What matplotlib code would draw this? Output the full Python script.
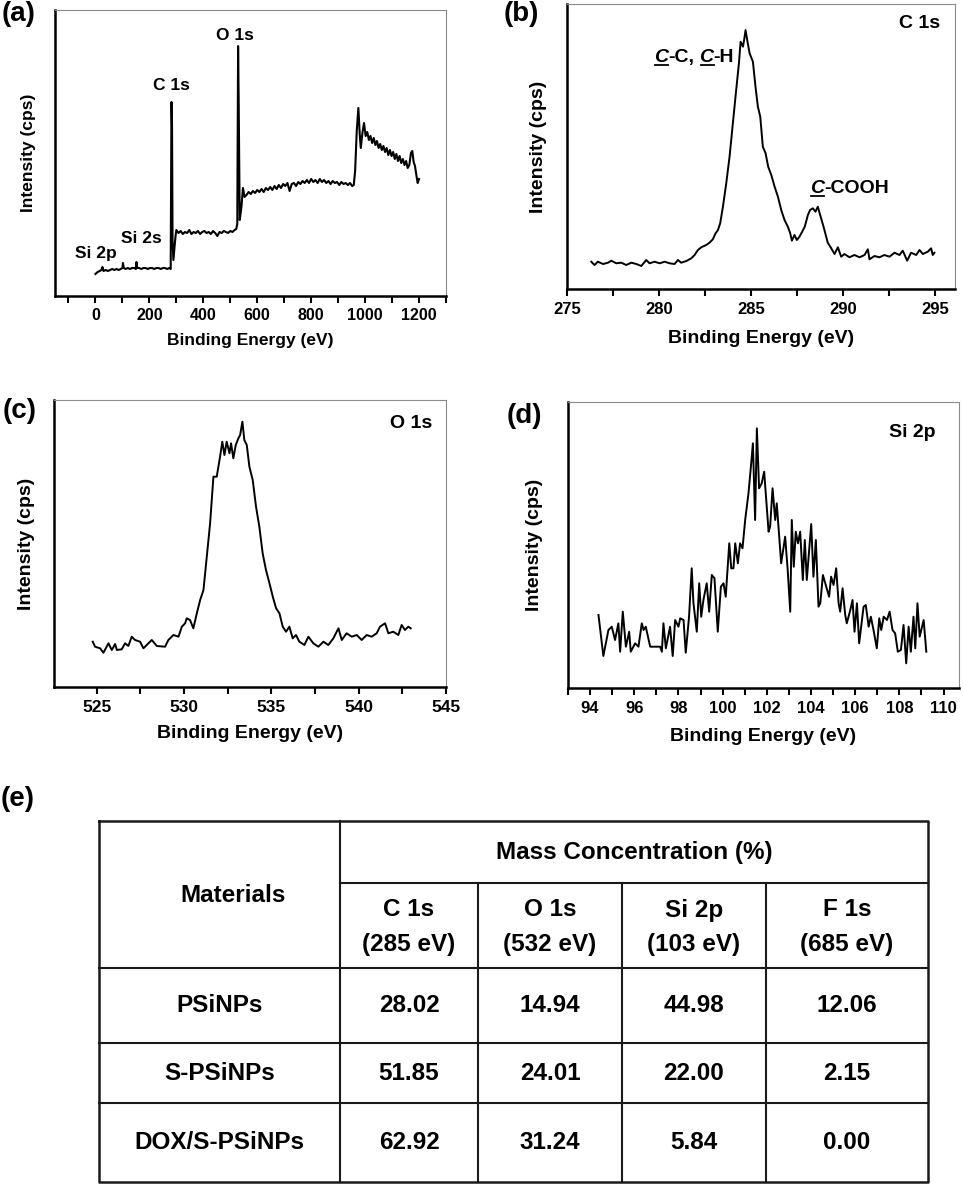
import numpy as np
import matplotlib
matplotlib.use("Agg")
import matplotlib.pyplot as plt
import matplotlib.transforms as mtransforms
from matplotlib.lines import Line2D
from matplotlib.ticker import MultipleLocator

plt.rcParams['font.family'] = ['Liberation Sans', 'DejaVu Sans']
plt.rcParams['font.weight'] = 'bold'

# ---- (a) survey scan ----
survey_be = ([0, 8, 16, 22, 26, 30, 38, 46, 54, 62, 70, 78, 86, 94, 100, 102, 105, 112,
              120, 128, 136, 144, 150, 152, 155, 162, 170, 178, 186, 194, 202, 210, 218,
              226, 234, 242, 250, 258, 266, 274, 279, 282, 284, 286, 289, 293, 297, 300]
             + [308, 316, 324, 332, 340, 348, 356, 364, 372, 380, 388, 396, 404, 412, 420,
                428, 436, 444, 452, 460, 468, 476, 484, 492, 500, 508, 516]
             + [522, 526, 529, 531, 535, 541, 547, 553]
             + list(range(560, 953, 8))
             + [958, 963, 969, 975, 980, 984, 990, 996, 1002]
             + list(range(1008, 1165, 6))
             + [1170, 1175, 1180, 1185, 1190, 1195, 1200])
survey_int = ([22, 24, 25, 26, 29, 25, 26, 25, 26, 27, 26, 27, 26, 27, 28, 33, 28, 27,
               28, 27, 28, 28, 27, 34, 28, 28, 27, 28, 28, 27, 28, 28, 27,
               28, 28, 27, 28, 28, 27, 28, 27, 194, 170, 55, 36, 48, 60, 66]
              + [63, 65, 62, 64, 63, 66, 62, 64, 63, 65, 62, 64, 65, 63, 64,
                 62, 65, 63, 60, 64, 63, 65, 64, 63, 65, 64, 66]
              + [67, 72, 250, 200, 76, 88, 108, 99]
              + [101, 104, 102, 105, 103, 106, 104, 107, 104, 108,
                 106, 109, 106, 110, 107, 111, 108, 112, 110, 113,
                 105, 112, 113, 110, 114, 112, 115, 113, 116, 113,
                 117, 114, 116, 113, 117, 114, 116, 113, 115, 112,
                 115, 113, 114, 111, 114, 112, 113, 111, 113, 110]
              + [111, 125, 165, 188, 162, 148, 163, 173, 160]
              + [164, 156, 160, 153, 158, 151, 155, 148, 152, 146, 150, 144, 148, 141,
                 146, 140, 144, 137, 142, 135, 140, 133, 137, 131, 135, 128, 131]
              + [143, 145, 134, 130, 121, 113, 117])

# ---- (b) C 1s ----
c1s_be = [276.32, 276.50, 276.68, 276.96, 277.23, 277.41, 277.68, 277.95, 278.22, 278.50,
          278.77, 279.04, 279.31, 279.49, 279.76, 280.04, 280.31, 280.58, 280.85, 281.03,
          281.21, 281.49, 281.76, 281.94, 282.12, 282.30, 282.57, 282.75, 282.93, 283.08,
          283.21, 283.33, 283.48, 283.66, 283.84, 284.02, 284.20, 284.35, 284.44, 284.57,
          284.66, 284.71, 284.80, 284.93, 285.11, 285.25, 285.38, 285.51, 285.65, 285.80,
          285.94, 286.11, 286.29, 286.47, 286.65, 286.83, 287.01, 287.14, 287.23, 287.37,
          287.50, 287.64, 287.79, 287.93, 288.10, 288.22, 288.37, 288.51, 288.64, 288.82,
          289.00, 289.18, 289.37, 289.55, 289.73, 289.91, 290.09, 290.36, 290.63, 290.91,
          291.18, 291.36, 291.45, 291.72, 291.99, 292.26, 292.54, 292.81, 293.08, 293.26,
          293.50, 293.71, 293.99, 294.17, 294.35, 294.62, 294.80, 294.89, 294.98]
c1s_int = [27.3, 24.0, 27.3, 25.0, 26.3, 28.3, 25.7, 26.3, 24.0, 26.3,
           25.0, 23.0, 29.0, 25.7, 27.3, 25.7, 27.3, 25.7, 25.0, 29.0,
           26.3, 28.0, 30.7, 34.0, 39.0, 41.7, 44.0, 46.3, 49.7, 55.7,
           59.0, 65.7, 82.3, 105.7, 132.3, 165.7, 199.0, 225.7, 247.3, 242.3,
           252.3, 259.0, 249.0, 235.7, 227.3, 202.3, 182.3, 172.3, 142.3, 135.7,
           122.3, 114.0, 102.3, 92.3, 79.0, 69.0, 62.3, 55.7, 48.3, 54.0,
           49.0, 52.3, 57.3, 62.3, 74.0, 79.0, 80.7, 77.3, 82.3, 70.7,
           59.0, 46.3, 40.7, 35.0, 41.7, 32.3, 35.0, 31.7, 34.0, 31.7,
           34.0, 39.7, 29.7, 33.0, 31.7, 34.0, 32.3, 36.3, 34.0, 38.3,
           28.3, 36.3, 34.0, 39.0, 35.0, 37.3, 40.7, 34.0, 36.3]

# ---- (c) O 1s ----
o1s_be = [524.77, 524.90, 525.19, 525.38, 525.67, 525.86, 526.05, 526.15, 526.43, 526.62,
          526.81, 527.00, 527.19, 527.48, 527.67, 528.15, 528.44, 528.91, 529.10, 529.39,
          529.68, 529.87, 530.06, 530.15, 530.34, 530.53, 530.73, 530.92, 531.11, 531.30,
          531.49, 531.68, 531.87, 532.06, 532.19, 532.31, 532.44, 532.60, 532.69, 532.82,
          532.96, 533.11, 533.21, 533.34, 533.45, 533.59, 533.74, 533.93, 534.12, 534.31,
          534.50, 534.69, 534.89, 535.08, 535.27, 535.46, 535.65, 535.84, 536.03, 536.22,
          536.41, 536.60, 536.89, 537.12, 537.40, 537.69, 537.98, 538.26, 538.55, 538.84,
          539.03, 539.31, 539.60, 539.89, 540.17, 540.46, 540.74, 541.03, 541.22, 541.51,
          541.70, 541.98, 542.27, 542.46, 542.65, 542.84, 542.98]
o1s_int = [45.3, 40.3, 38.7, 34.3, 43.7, 37.0, 43.0, 37.0, 37.7, 43.7,
           41.0, 50.3, 47.0, 45.3, 38.7, 47.0, 41.0, 40.3, 47.0, 52.0,
           50.3, 60.3, 63.7, 68.7, 67.0, 58.7, 73.7, 87.0, 97.0, 130.3,
           163.7, 210.3, 210.3, 230.3, 245.3, 232.0, 245.3, 233.7, 243.7, 228.7,
           242.0, 248.7, 252.0, 265.3, 247.0, 242.0, 220.3, 207.0, 180.3, 160.3,
           133.7, 117.0, 103.7, 90.3, 78.7, 73.7, 60.3, 55.3, 60.3, 48.7,
           52.0, 45.3, 42.0, 50.3, 43.7, 40.3, 45.3, 42.0, 48.7, 58.7,
           47.0, 53.7, 50.3, 52.0, 47.0, 52.0, 50.3, 53.7, 60.3, 63.7,
           53.7, 55.3, 52.0, 62.0, 57.0, 60.3, 58.7]

# ---- (d) Si 2p ----
si2p_be = [94.38, 94.60, 94.83, 94.98, 95.13, 95.28, 95.36, 95.48, 95.62, 95.77,
           95.84, 96.04, 96.19, 96.34, 96.42, 96.52, 96.72, 97.17, 97.25, 97.32,
           97.43, 97.62, 97.74, 97.85, 98.00, 98.08, 98.23, 98.33, 98.48, 98.60,
           98.68, 98.83, 98.94, 99.03, 99.13, 99.28, 99.39, 99.51, 99.63, 99.78,
           99.92, 100.04, 100.14, 100.30, 100.39, 100.49, 100.57, 100.69, 100.79, 100.90,
           101.02, 101.17, 101.28, 101.37, 101.47, 101.55, 101.65, 101.77, 101.88, 102.08,
           102.15, 102.26, 102.38, 102.45, 102.65, 102.83, 102.94, 103.06, 103.13, 103.22,
           103.31, 103.41, 103.51, 103.63, 103.72, 103.81, 104.01, 104.11, 104.22, 104.34,
           104.42, 104.54, 104.69, 104.82, 104.91, 105.02, 105.14, 105.25, 105.32, 105.43,
           105.55, 105.62, 105.78, 105.88, 105.97, 106.08, 106.18, 106.38, 106.48, 106.61,
           106.71, 106.83, 106.98, 107.09, 107.18, 107.29, 107.44, 107.56, 107.69, 107.81,
           107.93, 108.07, 108.19, 108.31, 108.42, 108.52, 108.64, 108.72, 108.82, 108.92,
           109.10, 109.22]
si2p_int = [73.0, 32.0, 58.0, 61.3, 48.0, 64.7, 36.3, 76.3, 41.3, 56.3,
            36.3, 44.7, 41.3, 64.7, 58.0, 61.3, 41.3, 41.3, 36.3, 64.7,
            39.7, 61.3, 32.0, 68.0, 61.3, 69.7, 68.0, 35.3, 71.3, 119.7,
            84.7, 56.3, 104.7, 71.3, 88.0, 104.7, 76.3, 113.0, 109.7, 56.3,
            101.3, 104.7, 91.3, 144.7, 119.7, 119.7, 144.7, 124.7, 144.7, 139.7,
            168.0, 194.7, 221.3, 244.7, 168.0, 259.7, 199.7, 204.7, 216.3, 156.3,
            161.3, 199.7, 168.0, 184.7, 124.7, 151.3, 119.7, 76.3, 168.0, 121.3,
            156.3, 144.7, 156.3, 108.0, 148.0, 108.0, 164.0, 111.3, 148.0, 81.3,
            84.7, 113.0, 101.3, 91.3, 111.3, 103.0, 119.7, 84.7, 76.3, 99.7,
            73.0, 64.7, 78.0, 88.0, 56.3, 84.7, 44.7, 81.3, 83.0, 61.3,
            71.3, 58.0, 39.7, 69.7, 58.0, 71.3, 68.0, 76.3, 58.0, 54.7,
            36.3, 38.0, 63.0, 24.7, 61.3, 36.3, 71.3, 39.7, 84.7, 51.3,
            68.0, 36.3]

# ---- (e) table ----
materials = ['PSiNPs', 'S-PSiNPs', 'DOX/S-PSiNPs']
elements = ['C 1s', 'O 1s', 'Si 2p', 'F 1s']
peak_ev = [285, 532, 103, 685]
mass_conc = [[28.02, 14.94, 44.98, 12.06],
             [51.85, 24.01, 22.00, 2.15],
             [62.92, 31.24, 5.84, 0.00]]

W, H = 963, 1186
fig = plt.figure(figsize=(W / 100, H / 100), dpi=100)


def px_axes(l, t, r, b):
    return fig.add_axes([l / W, 1 - b / H, (r - l) / W, (b - t) / H])


def style(ax, xlim, ylim, major, minor, tick_fs, lab_fs, xlab_y, ylab_x, pad):
    ax.set_xlim(*xlim)
    ax.set_ylim(*ylim)
    ax.set_yticks([])
    ax.xaxis.set_major_locator(MultipleLocator(major))
    ax.xaxis.set_minor_locator(MultipleLocator(minor))
    ax.tick_params(axis='x', which='both', direction='out', length=5, width=1.5,
                   labelsize=tick_fs, pad=pad, top=False)
    for s in ['left', 'bottom']:
        ax.spines[s].set_linewidth(1.8)
        ax.spines[s].set_color('black')
    for s in ['top', 'right']:
        ax.spines[s].set_linewidth(0.8)
        ax.spines[s].set_color('#8a8a8a')
    ax.set_xlabel('Binding Energy (eV)', fontsize=lab_fs, fontweight='bold')
    ax.set_ylabel('Intensity (cps)', fontsize=lab_fs, fontweight='bold')
    ax.xaxis.set_label_coords(0.5, xlab_y)
    ax.yaxis.set_label_coords(ylab_x, 0.5)
    for lab in ax.get_xticklabels():
        lab.set_fontweight('bold')


ax_a = px_axes(55, 10, 446, 296)
ax_b = px_axes(567, 4, 955, 289)
ax_c = px_axes(54, 400, 446, 687)
ax_d = px_axes(568, 402, 959, 688)

ax_a.plot(survey_be, survey_int, color='black', lw=1.5)
style(ax_a, (-150, 1300), (0, 286), 200, 100, 11.5, 12.5, -0.131, -0.0486, 3.5)
ax_a.text(516, 261, 'O 1s', fontsize=12.5, ha='center', va='center')
ax_a.text(283, 210, 'C 1s', fontsize=12.5, ha='center', va='center')
ax_a.text(170, 58, 'Si 2s', fontsize=12.5, ha='center', va='center')
ax_a.text(0, 43, 'Si 2p', fontsize=12.5, ha='center', va='center')

ax_b.plot(c1s_be, c1s_int, color='black', lw=1.4)
style(ax_b, (275, 296.1), (0, 285), 5, 2.5, 12, 14, -0.144, -0.0515, 4.5)
ax_b.text(294.2, 265, 'C 1s', fontsize=14, ha='center', va='center')

ax_c.plot(o1s_be, o1s_int, color='black', lw=1.4)
style(ax_c, (522.55, 545), (0, 287), 5, 2.5, 12.5, 14, -0.132, -0.0485, 4.5)
ax_c.text(543.0, 264, 'O 1s', fontsize=14, ha='center', va='center')

ax_d.plot(si2p_be, si2p_int, color='black', lw=1.4)
style(ax_d, (93, 110.7), (0, 286), 2, 1, 12, 14, -0.14, -0.064, 4.5)
ax_d.text(108.57, 256, 'Si 2p', fontsize=14, ha='center', va='center')


def rich_label(ax, x, y, pieces, fs):
    # pieces: (text, italic+underlined) ; None text -> a space
    fig.canvas.draw()
    r = fig.canvas.get_renderer()
    dx = 0.0
    space = 0.278 * fs * fig.dpi / 72
    base_y = ax.transData.transform((x, y))[1]
    for s, emph in pieces:
        if s is None:
            dx += space
            continue
        tr = mtransforms.offset_copy(ax.transData, fig=fig, x=dx, y=0, units='dots')
        t = ax.text(x, y, s, transform=tr, fontsize=fs, fontweight='bold',
                    fontstyle='italic' if emph else 'normal', ha='left', va='baseline')
        bb = t.get_window_extent(r)
        if emph:
            ax.add_line(Line2D([bb.x0 + 1, bb.x1], [base_y - 2.5, base_y - 2.5],
                               transform=mtransforms.IdentityTransform(),
                               color='black', lw=1.3))
        dx += bb.width


rich_label(ax_b, 279.73, 227, [('C', True), ('-C,', False), (None, None),
                               ('C', True), ('-H', False)], 14)
rich_label(ax_b, 288.2, 95.7, [('C', True), ('-COOH', False)], 14)

# overlay in pixel coordinates for panel letters and the table
ov = fig.add_axes([0, 0, 1, 1], zorder=-1)
ov.set_xlim(0, W)
ov.set_ylim(H, 0)
ov.axis('off')

for lab, (px, py) in zip(['(a)', '(b)', '(c)', '(d)', '(e)'],
                         [(19, 14), (521, 14), (20, 411), (524, 416), (18, 799)]):
    ov.text(px, py, lab, fontsize=20, fontweight='bold', ha='center', va='center')

col_x = [99, 340, 478, 622, 766, 928]
row_y = [821, 883, 968, 1043, 1103, 1182]
lc = '#1a1a1a'
ov.plot([col_x[0], col_x[-1], col_x[-1], col_x[0], col_x[0]],
        [row_y[0], row_y[0], row_y[-1], row_y[-1], row_y[0]], color=lc, lw=1.8)
ov.plot([col_x[1], col_x[1]], [row_y[0], row_y[-1]], color=lc, lw=1.5)
for cx in col_x[2:-1]:
    ov.plot([cx, cx], [row_y[1], row_y[-1]], color=lc, lw=1.5)
ov.plot([col_x[1], col_x[-1]], [row_y[1], row_y[1]], color=lc, lw=1.5)
for ry in row_y[2:-1]:
    ov.plot([col_x[0], col_x[-1]], [ry, ry], color=lc, lw=1.5)

tfs = 17.5
ov.text(233, 895, 'Materials', fontsize=tfs, ha='center', va='center')
ov.text((col_x[1] + col_x[-1]) / 2, 852, 'Mass Concentration (%)', fontsize=tfs,
        ha='center', va='center')
for j, (el, ev) in enumerate(zip(elements, peak_ev)):
    cx = (col_x[j + 1] + col_x[j + 2]) / 2
    ov.text(cx, 910, el, fontsize=tfs, ha='center', va='center')
    ov.text(cx, 945, f'({ev} eV)', fontsize=tfs, ha='center', va='center')
for i, mat in enumerate(materials):
    cy = (row_y[i + 2] + row_y[i + 3]) / 2
    ov.text((col_x[0] + col_x[1]) / 2, cy, mat, fontsize=tfs, ha='center', va='center')
    for j, v in enumerate(mass_conc[i]):
        cx = (col_x[j + 1] + col_x[j + 2]) / 2
        ov.text(cx, cy, f'{v:.2f}', fontsize=tfs, ha='center', va='center')

fig.savefig('out.png', dpi=100)
